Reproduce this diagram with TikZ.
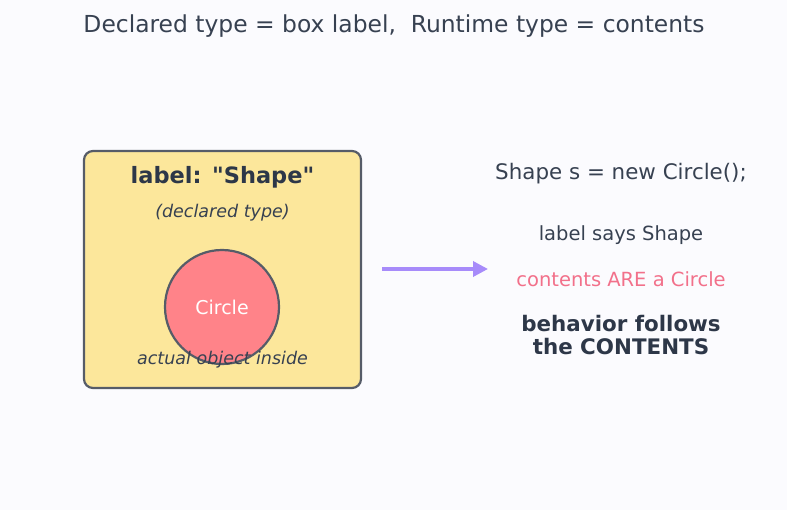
\documentclass[tikz,border=0pt]{standalone}
\usepackage{fontspec}
\setmainfont{DejaVu Sans}
\usepackage{tikz}
\usetikzlibrary{arrows.meta,positioning}
\definecolor{Ink}{HTML}{374151}
\definecolor{DarkInk}{HTML}{2D3748}
\definecolor{Edge}{HTML}{565C68}
\definecolor{BoxFill}{HTML}{FCE79B}
\definecolor{CircFill}{HTML}{FF8389}
\definecolor{Pink}{HTML}{F2708A}
\definecolor{Violet}{HTML}{A78BFA}
\definecolor{Paper}{HTML}{FBFBFE}
\tikzset{
  txt/.style={text=Ink, inner sep=0pt, anchor=center},
  container/.style={rectangle, rounded corners=9pt, draw=Edge, line width=2.2pt,
    fill=BoxFill, minimum width=277pt, minimum height=237pt},
  runtime/.style={circle, draw=Edge, line width=2.2pt, fill=CircFill,
    minimum size=114pt, inner sep=0pt},
  arrow/.style={-{Triangle[length=15pt,width=15pt]}, line width=3.5pt, draw=Violet}
}
\begin{document}
\begin{tikzpicture}[x=1pt,y=-1pt]
  \fill[Paper] (0,0) rectangle (787,510);
  \useasboundingbox (0,0) rectangle (787,510);
  \node[txt, font=\fontsize{23.4}{28}\selectfont] (title) at (394,26.5) {Declared type = box label,\ \ Runtime type = contents};

  \node[container] (box) at (222.5,269.5) {};
  \node[runtime] (obj) at (222,307) {};
  \node[txt, text=DarkInk, font=\fontsize{22.5}{27}\selectfont\bfseries] (boxlabel) at (222.5,177.5) {label: \textquotedbl Shape\textquotedbl};
  \node[txt, font=\fontsize{17.5}{21}\selectfont\itshape] (declared) at (222.5,212.5) {(declared type)};
  \node[txt, text=white, font=\fontsize{19}{23}\selectfont] (objname) at (222,307) {Circle};
  \node[txt, font=\fontsize{17.5}{21}\selectfont\itshape] (inside) at (222.5,359.5) {actual object inside};

  \node[txt, font=\fontsize{21.4}{26}\selectfont] (code) at (621,173.5) {Shape s = new Circle();};
  \node[txt, font=\fontsize{19.5}{23}\selectfont] (says) at (621,235) {label says Shape};
  \node[txt, text=Pink, font=\fontsize{19.5}{23}\selectfont] (are) at (621,279.5) {contents ARE a Circle};
  \node[txt, text=DarkInk, align=center, font=\fontsize{21.4}{23}\selectfont\bfseries] (follows) at (621,335) {behavior follows\\the CONTENTS};

  \coordinate (from) at (382,269);
  \coordinate (to) at (488,269);
  \draw[arrow] (from) -- (to);
\end{tikzpicture}
\end{document}
